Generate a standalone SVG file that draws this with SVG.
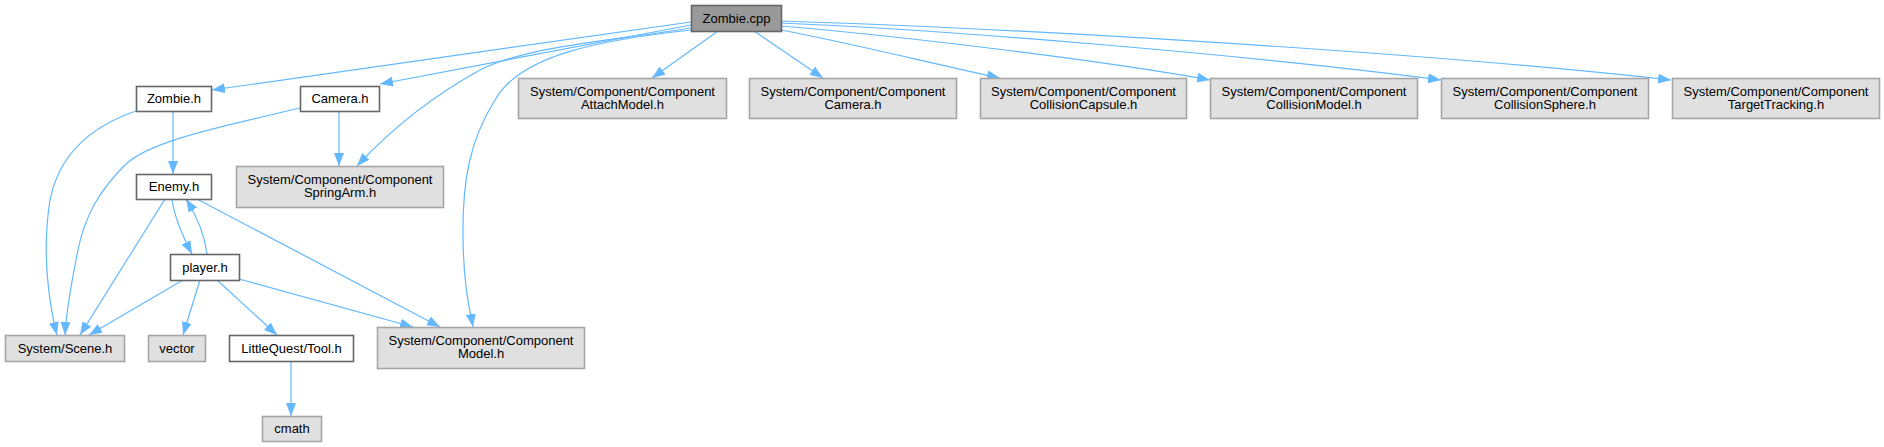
<svg xmlns="http://www.w3.org/2000/svg" width="1884" height="447" viewBox="0 0 1884 447">
<defs>
<style>
.n rect{stroke-width:1.6}
.w rect{fill:#ffffff;stroke:#666666}
.g rect{fill:#e0e0e0;stroke:#a6a6a6}
.r rect{fill:#999999;stroke:#666666}
text{font-family:"Liberation Sans",Arial,sans-serif;font-size:13px;fill:#000000;text-anchor:middle}
#edges path{fill:none;stroke:#63b8ff;stroke-width:1.2;marker-end:url(#ah)}
</style>
<marker id="ah" viewBox="0 0 13 10" refX="13" refY="5" markerWidth="13" markerHeight="10" markerUnits="userSpaceOnUse" orient="auto">
<path d="M0,0 L13,5 L0,10 z" fill="#63b8ff"/>
</marker>
</defs>
<rect x="0" y="0" width="1884" height="447" fill="#ffffff"/>
<g id="edges">
<path d="M691,22 L212,90"/>
<path d="M691,25 L380,84"/>
<path d="M691,28 C620,40 530,45 480,70 C440,92 395,125 357,166"/>
<path d="M691,30 C600,40 520,55 495,100 C470,140 462,180 463,240 C464,290 470,310 473,327"/>
<path d="M718,31 L652,78"/>
<path d="M754,31 L823,78"/>
<path d="M781,30 C850,43 930,63 1000,78"/>
<path d="M781,26 C900,36 1100,60 1210,80"/>
<path d="M781,23 C950,30 1250,55 1441,80"/>
<path d="M781,21 C1000,28 1400,50 1671,80"/>
<path d="M173,111 L173,174"/>
<path d="M136,111 C95,125 60,150 50,200 C42,250 48,300 57,335"/>
<path d="M300,108 C230,125 150,140 125,165 C100,190 85,215 78,250 C72,280 66,310 65,335"/>
<path d="M339,111 L339,166"/>
<path d="M165,199 L80,335"/>
<path d="M172,199 C174,215 182,235 192,254"/>
<path d="M197,199 L440,327"/>
<path d="M207,254 C205,238 198,218 186,199"/>
<path d="M183,280 L89,335"/>
<path d="M200,280 L183,335"/>
<path d="M217,280 L277,335"/>
<path d="M239,279 L413,327"/>
<path d="M291,361 L291,416"/>
</g>
<g id="zombie_cpp" class="n r"><rect x="691.5" y="5.5" width="90" height="26"/><text x="736.5" y="23">Zombie.cpp</text></g>
<g id="zombie_h" class="n w"><rect x="136.5" y="86.5" width="75" height="25"/><text x="174" y="103">Zombie.h</text></g>
<g id="camera_h" class="n w"><rect x="300.5" y="86.5" width="79" height="25"/><text x="340" y="103">Camera.h</text></g>
<g id="enemy_h" class="n w"><rect x="136.5" y="174.5" width="75" height="25"/><text x="174" y="191">Enemy.h</text></g>
<g id="player_h" class="n w"><rect x="170.5" y="254.5" width="69" height="26"/><text x="205" y="272">player.h</text></g>
<g id="springarm_h" class="n g"><rect x="236.5" y="166.5" width="207" height="41"/><text x="340" y="183.5">System/Component/Component</text><text x="340" y="197">SpringArm.h</text></g>
<g id="scene_h" class="n g"><rect x="5.5" y="335.5" width="119" height="26"/><text x="65" y="353">System/Scene.h</text></g>
<g id="vector" class="n g"><rect x="148.5" y="335.5" width="57" height="26"/><text x="177" y="353">vector</text></g>
<g id="tool_h" class="n w"><rect x="229.5" y="335.5" width="124" height="26"/><text x="291.5" y="353">LittleQuest/Tool.h</text></g>
<g id="model_h" class="n g"><rect x="377.5" y="327.5" width="207" height="41"/><text x="481" y="344.5">System/Component/Component</text><text x="481" y="358">Model.h</text></g>
<g id="cmath" class="n g"><rect x="262.5" y="416.5" width="59" height="25"/><text x="292" y="433">cmath</text></g>
<g id="attachmodel_h" class="n g"><rect x="518.5" y="78.5" width="208" height="40"/><text x="622.5" y="95.5">System/Component/Component</text><text x="622.5" y="109">AttachModel.h</text></g>
<g id="compcamera_h" class="n g"><rect x="749.5" y="78.5" width="207" height="40"/><text x="853" y="95.5">System/Component/Component</text><text x="853" y="109">Camera.h</text></g>
<g id="collisioncapsule_h" class="n g"><rect x="980.5" y="78.5" width="206" height="40"/><text x="1083.5" y="95.5">System/Component/Component</text><text x="1083.5" y="109">CollisionCapsule.h</text></g>
<g id="collisionmodel_h" class="n g"><rect x="1210.5" y="78.5" width="207" height="40"/><text x="1314" y="95.5">System/Component/Component</text><text x="1314" y="109">CollisionModel.h</text></g>
<g id="collisionsphere_h" class="n g"><rect x="1441.5" y="78.5" width="207" height="40"/><text x="1545" y="95.5">System/Component/Component</text><text x="1545" y="109">CollisionSphere.h</text></g>
<g id="targettracking_h" class="n g"><rect x="1672.5" y="78.5" width="207" height="40"/><text x="1776" y="95.5">System/Component/Component</text><text x="1776" y="109">TargetTracking.h</text></g>
</svg>
